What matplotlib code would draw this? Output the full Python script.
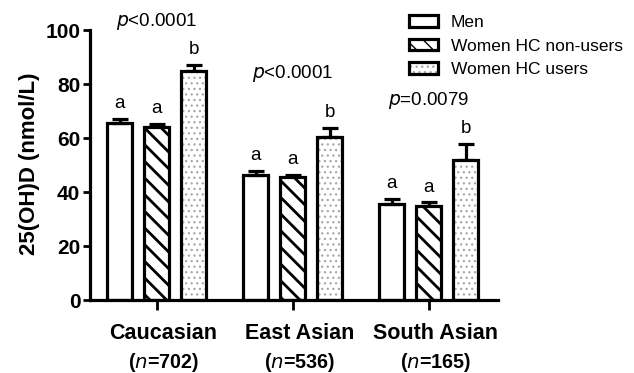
import matplotlib
matplotlib.use("Agg")
import matplotlib.pyplot as plt
import numpy as np
from matplotlib.patches import Patch
from matplotlib.legend_handler import HandlerTuple

plt.rcParams['font.family'] = ['Liberation Sans', 'DejaVu Sans']

categories = ["Caucasian", "East Asian", "South Asian"]
n_labels = ["702", "536", "165"]
series = ["Men", "Women HC non-users", "Women HC users"]
men = [65.5, 46.3, 35.5]
men_err = [1.6, 1.4, 1.9]
women_non = [64.0, 45.5, 34.8]
women_non_err = [1.3, 0.8, 1.4]
women_users = [84.8, 60.2, 52.0]
women_users_err = [2.3, 3.6, 5.8]
pvals = [r"$\it{p}$<0.0001", r"$\it{p}$<0.0001", r"$\it{p}$=0.0079"]
pval_y = [103, 84, 74]
letters = [["a", "a", "b"], ["a", "a", "b"], ["a", "a", "b"]]

fig = plt.figure(figsize=(6.34, 3.73), dpi=100)
ax = fig.add_axes([90/634, 1 - 300/373, (498-90)/634, 270/373])

x = np.arange(len(categories))
off = 0.272
w = 0.18
lw = 2.3
vals = [men, women_non, women_users]
errs = [men_err, women_non_err, women_users_err]
hatches = [None, '\\\\', '...']
hcolors = ['black', 'black', '#a8a8a8']
hlws = [1.0, 2.0, 0.9]

for i in range(3):
    xs = x + (i - 1) * off
    if hatches[i]:
        with plt.rc_context({'hatch.linewidth': hlws[i]}):
            ax.bar(xs, vals[i], w, color='white', edgecolor=hcolors[i], hatch=hatches[i],
                   linewidth=0, zorder=2)
    ax.bar(xs, vals[i], w, color='none', edgecolor='black', linewidth=lw, zorder=3)
    ax.errorbar(xs, vals[i], yerr=[np.zeros(3), errs[i]], fmt='none', ecolor='black',
                elinewidth=lw, capsize=6, capthick=lw, zorder=1)
    for j in range(3):
        ax.text(xs[j], vals[i][j] + errs[i][j] + 2.5, letters[j][i], ha='center', va='bottom', fontsize=13.5)

for j in range(3):
    ax.text(x[j], pval_y[j], pvals[j], ha='center', va='center', fontsize=13.5)

ax.set_xlim(-0.49, 2.51)
ax.set_ylim(0, 100)
ax.set_yticks([0, 20, 40, 60, 80, 100])
ax.set_yticklabels(['0', '20', '40', '60', '80', '100'], fontweight='bold', fontsize=15)
ax.set_xticks(x)
ax.set_xticklabels([])
ax.tick_params(axis='y', direction='out', length=5, width=2, pad=2)
ax.tick_params(axis='x', direction='out', length=7, width=2)
for s in ['top', 'right']:
    ax.spines[s].set_visible(False)
for s in ['left', 'bottom']:
    ax.spines[s].set_linewidth(2.3)

for j in range(3):
    ax.text(x[j] + 0.05, -0.125, categories[j], transform=ax.get_xaxis_transform(),
            ha='center', va='center', fontsize=15.5, fontweight='bold')
    ax.text(x[j] + 0.05, -0.23, r"($\bf{\it{n}}$=" + n_labels[j] + ")", transform=ax.get_xaxis_transform(),
            ha='center', va='center', fontsize=14.2, fontweight='bold')

fig.text(30/634, 1 - 164/373, "25(OH)D (nmol/L)", rotation=90, ha='center', va='center',
         fontsize=16, fontweight='bold')

# legend
handles = []
for i in range(3):
    if hatches[i]:
        with plt.rc_context({'hatch.linewidth': hlws[i]}):
            fillp = Patch(facecolor='white', edgecolor=hcolors[i], hatch=hatches[i], linewidth=0)
        outline = Patch(facecolor='none', edgecolor='black', linewidth=lw)
        handles.append((fillp, outline))
    else:
        handles.append(Patch(facecolor='white', edgecolor='black', linewidth=lw))
leg = fig.legend(handles, series, loc='upper left', bbox_to_anchor=(402/634, 1 - 8/373),
                 frameon=False, fontsize=12.5, handlelength=1.7, handleheight=0.65,
                 labelspacing=0.5, handletextpad=0.7, borderaxespad=0,
                 handler_map={tuple: HandlerTuple(ndivide=1, pad=0)})

fig.savefig("out.png", dpi=100)
